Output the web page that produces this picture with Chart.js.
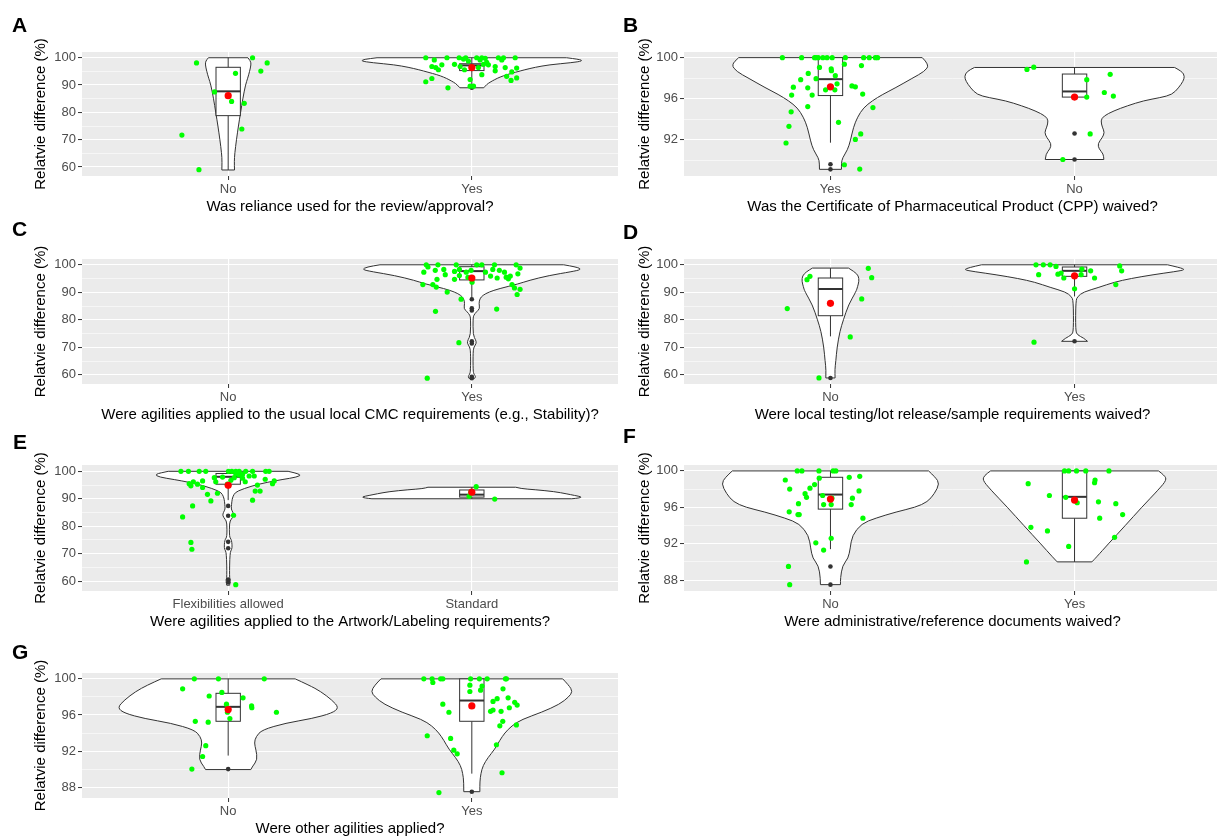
<!DOCTYPE html>
<html>
<head>
<meta charset="utf-8">
<script src="https://cdn.jsdelivr.net/npm/chart.js@4.4.1/dist/chart.umd.min.js"></script>
<style>
  html, body { margin: 0; padding: 0; background: #fff; overflow: hidden; }
  body { position: relative; width: 1217px; height: 839px; }
  canvas { position: absolute; }
  .tag { position: absolute; font: bold 21px 'Liberation Sans', Arial, sans-serif; color: #000; line-height: 1; z-index: 2; }
</style>
</head>
<body>
<div class="tag" style="left:12px;top:14px">A</div>
<div class="tag" style="left:623px;top:14px">B</div>
<div class="tag" style="left:12px;top:218px">C</div>
<div class="tag" style="left:623px;top:221px">D</div>
<div class="tag" style="left:13px;top:431px">E</div>
<div class="tag" style="left:623px;top:425px">F</div>
<div class="tag" style="left:12px;top:641px">G</div>

<canvas id="panelA" width="622" height="199" style="left:0;top:22px"></canvas>
<canvas id="panelB" width="625" height="199" style="left:600px;top:22px"></canvas>
<canvas id="panelC" width="622" height="200" style="left:0;top:229px"></canvas>
<canvas id="panelD" width="625" height="200" style="left:600px;top:229px"></canvas>
<canvas id="panelE" width="622" height="201" style="left:0;top:435px"></canvas>
<canvas id="panelF" width="625" height="201" style="left:600px;top:435px"></canvas>
<canvas id="panelG" width="622" height="200" style="left:0;top:643px"></canvas>

<script>
const FONT = "'Liberation Sans', Arial, sans-serif";
const Y_TITLE = 'Relatvie difference (%)';

// y ticks (major labelled, minor only as grid)
const ticks60 = [60, 70, 80, 90, 100];
const minor60 = [65, 75, 85, 95];
const ticks92 = [92, 96, 100];
const ticks88 = [88, 92, 96, 100];
const minor4 = [90, 94, 98];

// violins: [value, half width in category units]; boxes: [lower, q1, median, q3, upper]
// points: [x jitter, value]

// ---- A ----
const aCategories = ['No', 'Yes'];
const aTitle = 'Was reliance used for the review/approval?';
const aNoViolin = [[100, .081], [98.8, .092], [97.5, .094], [95, .088], [92.5, .08], [90, .071], [85, .06], [80, .051], [75, .042], [70, .034], [65, .027], [62, .025], [58.9, .026]];
const aYesViolin = [[100, .389], [99.4, .443], [98.8, .455], [98.2, .41], [97.4, .316], [96.5, .26], [95.6, .217], [94.7, .18], [93.8, .143], [92.9, .115], [92, .094], [91, .074], [90.2, .061], [89, .049]];
const aNoBox = [58.9, 78.8, 87.7, 96.5, 100];
const aYesBox = [89.6, 95.3, 97.2, 97.8, 100];
const aMeans = [86.1, 96.4];
const aNoOutliers = [];
const aYesOutliers = [89.0];
const aNoPoints = [[-0.13, 98.1], [0.10, 100], [0.16, 98.1], [0.134, 95.1], [0.03, 94.3], [-0.056, 87.5], [0.014, 84.0], [0.066, 83.3], [0.056, 73.9], [-0.19, 71.7], [-0.12, 59.0]];
const aYesPoints = [[-0.189, 100], [-0.154, 99.2], [-0.102, 100], [-0.052, 100], [-0.034, 99.5], [-0.025, 100], [0.020, 100], [0.041, 100], [0.109, 100], [0.130, 100], [0.178, 100],
  [-0.164, 96.8], [-0.148, 96.4], [-0.123, 97.4], [-0.137, 95.6], [-0.071, 97.6], [-0.048, 96.8], [-0.030, 95.6], [0.027, 96.4], [0.048, 97.6], [0.061, 98.3], [0.096, 96.8],
  [0.137, 96.4], [0.184, 96.2], [0.164, 94.8], [0.143, 93.2], [0.184, 92.6], [0.161, 91.7], [-0.007, 92.0], [-0.164, 92.4], [-0.189, 91.2], [-0.098, 89.0], [-0.007, 89.6],
  [0.007, 89.6], [0.041, 93.8], [0.096, 95.2], [0.068, 97.4], [0.034, 99.2], [0.123, 99.2], [0.055, 99.8], [-0.014, 98.8]];

// ---- B ----
const bCategories = ['Yes', 'No'];
const bTitle = 'Was the Certificate of Pharmaceutical Product (CPP) waived?';
const bYesViolin = [[100, .376], [99.3, .406], [98.65, .385], [98, .336], [97.05, .266], [96.4, .213], [95.8, .172], [95.1, .135], [94.2, .111], [93.2, .094], [91.9, .082], [91, .07], [90.2, .049], [89.7, .045], [89.1, .045]];
const bNoViolin = [[99.04, .41], [98.65, .441], [98.17, .451], [97.7, .445], [97.05, .426], [96.4, .40], [96.1, .352], [95.8, .283], [95.3, .216], [94.8, .16], [94.3, .119], [93.85, .107], [93.2, .114], [92.7, .123], [92.2, .114], [91.6, .095], [91.1, .10], [90.6, .118], [90.06, .12]];
const bYesBox = [91.7, 96.3, 97.9, 100, 100];
const bNoBox = [96.15, 96.15, 96.7, 98.4, 99.04];
const bMeans = [97.15, 96.15];
const bYesOutliers = [89.6, 89.1];
const bNoOutliers = [92.6, 90.06];
const bYesPoints = [[-0.197, 100], [-0.118, 100], [-0.065, 100], [-0.059, 100], [-0.050, 100], [-0.031, 100], [-0.014, 100], [0.007, 100], [0.061, 100], [0.136, 100], [0.159, 100], [0.184, 100], [0.193, 100],
  [-0.045, 99.04], [0.003, 98.91], [0.004, 98.72], [0.057, 99.36], [0.127, 99.23], [-0.091, 98.46], [-0.122, 97.85], [-0.059, 97.95], [0.020, 98.24], [-0.152, 97.12], [-0.093, 97.05],
  [0.027, 97.44], [0.088, 97.24], [0.102, 97.15], [-0.020, 96.86], [0.018, 96.86], [-0.159, 96.35], [-0.075, 96.35], [0.132, 96.44], [-0.093, 95.22], [0.174, 95.13], [-0.161, 94.71],
  [-0.170, 93.30], [0.033, 93.69], [0.124, 92.56], [0.102, 92.02], [-0.182, 91.67], [0.057, 89.55], [0.120, 89.13]];
const bNoPoints = [[-0.195, 98.85], [-0.167, 99.07], [0.050, 97.85], [0.146, 98.37], [0.122, 96.6], [0.159, 96.25], [0.050, 96.15], [0.064, 92.56], [-0.048, 90.06]];

// ---- C ----
const cCategories = ['No', 'Yes'];
const cTitle = 'Were agilities applied to the usual local CMC requirements (e.g., Stability)?';
const cYesViolin = [[100, .377], [99.2, .43], [98.3, .451], [97.5, .41], [96.1, .316], [94.3, .234], [93.1, .193], [91.3, .111], [90.1, .07], [88.9, .045], [87.7, .033], [85.9, .029], [84.1, .033], [82.9, .019], [81.7, .008], [80.5, .005], [74.5, .005], [72.7, .016], [71.5, .019], [70.2, .009], [68.5, .005], [61.5, .005], [60.2, .009], [59.4, .016], [58.8, .012]];
const cYesBox = [88.0, 94.5, 97.7, 99.3, 100];
const cMeans = [null, 95.2];
const cYesOutliers = [87.5, 84.2, 83.4, 72.2, 71.4, 59.3, 58.8];
const cYesPoints = [[-0.187, 100], [-0.180, 99.2], [-0.139, 100], [-0.064, 100], [0.020, 100], [0.041, 100], [0.093, 100], [0.182, 100], [-0.197, 97.3], [-0.150, 98], [-0.115, 98.3],
  [-0.071, 97.6], [-0.051, 98.3], [-0.023, 97.3], [-0.003, 98], [0.056, 97.3], [0.086, 98.3], [0.113, 98], [0.134, 97.3], [0.189, 96.7], [0.198, 98.8], [-0.109, 96.4], [-0.143, 94.7],
  [-0.071, 94.7], [-0.051, 96.1], [-0.016, 95.4], [0.077, 95.9], [0.104, 95.2], [0.141, 95.5], [0.150, 94.9], [0.158, 95.9], [-0.201, 92.8], [-0.160, 92.8], [-0.146, 91.9],
  [-0.101, 90.1], [-0.044, 87.5], [0.001, 93.7], [0.165, 92.8], [0.175, 91.6], [0.198, 91.1], [0.186, 89.2], [-0.149, 83.1], [0.102, 83.9], [-0.053, 71.7], [-0.183, 58.8]];

// ---- D ----
const dCategories = ['No', 'Yes'];
const dTitle = 'Were local testing/lot release/sample requirements waived?';
const dNoViolin = [[98.8, .074], [97.5, .098], [96, .115], [94, .117], [92, .111], [90.3, .105], [85.5, .074], [80, .053], [76, .039], [70, .027], [65, .022], [62, .018], [58.9, .019]];
const dYesViolin = [[100, .381], [99, .43], [98.2, .455], [97.5, .41], [96.4, .322], [95, .23], [93.7, .163], [91.8, .10], [90.1, .036], [88.5, .013], [87, .005], [76, .004], [74.5, .012], [73.4, .037], [72.2, .053]];
const dNoBox = [74.0, 81.5, 91.2, 95.2, 98.8];
const dYesBox = [88.5, 95.8, 97.8, 99.2, 100];
const dMeans = [86.0, 96.0];
const dNoOutliers = [58.9];
const dYesOutliers = [72.2];
const dNoPoints = [[-0.177, 84.1], [-0.096, 94.6], [-0.084, 95.8], [0.155, 98.7], [0.169, 95.3], [0.128, 87.6], [0.081, 73.8], [-0.047, 58.9]];
const dYesPoints = [[-0.158, 100], [-0.128, 100], [-0.10, 100], [-0.076, 99.4], [-0.147, 96.4], [-0.068, 96.6], [-0.055, 97.0], [-0.044, 95.2], [0.03, 98.4], [0.066, 97.8],
  [0.027, 96.4], [0.082, 95.2], [0, 91.3], [0.185, 99.6], [0.193, 97.8], [0.169, 92.8], [-0.166, 71.9]];

// ---- E ----
const eCategories = ['Flexibilities allowed', 'Standard'];
const eTitle = 'Were agilities applied to the Artwork/Labeling requirements?';
const eFlexViolin = [[100, .246], [98.9, .303], [97.9, .283], [97, .221], [96, .16], [94.7, .098], [92.8, .037], [91.6, .023], [89.8, .016], [88, .014], [86.2, .012], [85, .02], [83.8, .023], [82.5, .012], [81.3, .005], [76.1, .005], [75.3, .012], [74.1, .015], [72.8, .016], [71.6, .015], [70.4, .007], [61.3, .005], [60.4, .009], [59.2, .007], [58.5, .006]];
const eStdViolin = [[94.2, .18], [93.7, .2], [93.3, .26], [92.6, .34], [91.8, .389], [91.2, .422], [90.7, .451], [90.3, .443], [90.0, .41]];
const eFlexBox = [89.5, 95.3, 98.0, 99.2, 100];
const eStdBox = [90.0, 90.6, 91.5, 93.2, 94.2];
const eMeans = [94.9, 92.4];
const eFlexOutliers = [87.4, 83.8, 74.3, 72.0, 60.6, 59.5];
const eStdOutliers = [];
const eFlexPoints = [[-0.194, 100], [-0.163, 100], [-0.119, 100], [-0.092, 100], [0.001, 100], [0.015, 100], [0.031, 100], [0.045, 100], [0.072, 100], [0.100, 100], [0.154, 100], [0.168, 100],
  [-0.160, 95.5], [-0.153, 94.7], [-0.143, 96.2], [-0.126, 95.3], [-0.105, 96.5], [-0.105, 94.1], [-0.085, 91.6], [-0.071, 89.2], [-0.057, 97.7], [-0.051, 96.2], [-0.044, 92.0],
  [-0.023, 97.9], [-0.003, 95.3], [0.011, 96.7], [0.025, 97.7], [0.045, 98.7], [0.059, 97.5], [0.070, 96.2], [0.086, 98.3], [0.107, 98.3], [0.120, 95.0], [0.111, 92.8], [0.131, 92.8],
  [0.152, 97.1], [0.182, 95.5], [0.189, 96.5], [0.100, 89.5], [-0.146, 87.4], [-0.187, 83.4], [0.022, 84.0], [-0.153, 74.1], [-0.149, 71.6], [0.031, 58.7], [0.059, 98.9], [0.031, 99.2]];
const eStdPoints = [[-0.011, 90.9], [0.018, 94.4], [0.094, 89.9], [-0.004, 92.4]];

// ---- F ----
const fCategories = ['No', 'Yes'];
const fTitle = 'Were administrative/reference documents waived?';
const fNoViolin = [[100, .402], [99.3, .43], [98.6, .447], [97.5, .426], [96.6, .398], [96, .348], [95.5, .27], [94.8, .184], [94.2, .127], [92.9, .089], [91.5, .081], [90.4, .073], [89.6, .049], [88.2, .041], [87.5, .041]];
const fYesViolin = [[100, .344], [99.5, .369], [99, .377], [98, .346], [96, .275], [94, .208], [92, .139], [90.5, .089], [90, .071]];
const fNoBox = [91.4, 95.8, 97.4, 99.3, 100];
const fYesBox = [90.0, 94.8, 97.15, 100, 100];
const fMeans = [96.9, 96.8];
const fNoOutliers = [89.5, 87.5];
const fYesOutliers = [];
const fNoPoints = [[-0.136, 100], [-0.117, 100], [-0.047, 100], [0.011, 100], [0.022, 100], [-0.185, 99.0], [-0.167, 98.0], [-0.046, 99.2], [0.077, 99.3], [0.120, 99.4],
  [-0.065, 98.5], [-0.084, 98.1], [-0.104, 97.5], [-0.098, 97.1], [-0.131, 96.4], [-0.032, 97.3], [0.006, 97.0], [0.003, 96.3], [-0.028, 96.3], [0.090, 97.0], [0.085, 96.3],
  [0.117, 97.8], [-0.169, 95.5], [-0.133, 95.2], [-0.128, 95.2], [0.133, 94.8], [-0.060, 92.1], [0.003, 92.6], [-0.028, 91.3], [-0.172, 89.5], [-0.167, 87.5]];
const fYesPoints = [[-0.041, 100], [-0.024, 100], [0.008, 100], [0.046, 100], [0.141, 100], [-0.190, 98.6], [-0.103, 97.3], [-0.036, 97.1], [0.011, 96.5], [0.084, 99.0],
  [0.082, 98.7], [0.098, 96.6], [0.169, 96.4], [0.197, 95.2], [0.103, 94.8], [-0.179, 93.8], [-0.111, 93.4], [-0.024, 91.7], [0.164, 92.7], [-0.197, 90.0]];

// ---- G ----
const gCategories = ['No', 'Yes'];
const gTitle = 'Were other agilities applied?';
const gNoViolin = [[100, .275], [99.3, .332], [98.6, .38], [97.65, .426], [96.8, .455], [96.2, .426], [95.6, .344], [95.1, .236], [94.35, .139], [93.6, .114], [92.9, .107], [92.15, .114], [91.05, .12], [90.3, .10], [89.95, .093]];
const gYesViolin = [[100, .373], [99.3, .398], [98.6, .414], [98, .398], [97.2, .361], [96.3, .287], [95.5, .205], [94.8, .164], [94, .135], [93.2, .115], [92.2, .094], [91.3, .067], [90.4, .046], [89.5, .037], [88.6, .033], [87.5, .033]];
const gNoBox = [91.5, 95.3, 96.9, 98.4, 100];
const gYesBox = [89.5, 95.3, 97.6, 100, 100];
const gMeans = [96.6, 97.0];
const gNoOutliers = [90.0];
const gYesOutliers = [87.5];
const gNoPoints = [[-0.139, 100], [-0.040, 100], [0.148, 100], [-0.187, 98.9], [-0.078, 98.1], [-0.026, 98.5], [-0.007, 97.2], [0.061, 97.9], [0.096, 97.0], [0.097, 96.8],
  [-0.003, 96.3], [0.007, 95.6], [0.198, 96.3], [-0.135, 95.3], [-0.082, 95.2], [-0.092, 92.6], [-0.105, 91.4], [-0.149, 90.0]];
const gYesPoints = [[-0.197, 100], [-0.163, 100], [-0.128, 100], [-0.119, 100], [-0.005, 100], [0.031, 100], [0.063, 100], [0.138, 100], [0.142, 100], [-0.160, 99.6],
  [-0.008, 99.3], [0.042, 99.2], [0.036, 98.75], [-0.008, 98.6], [0.128, 98.9], [-0.119, 97.2], [-0.094, 96.3], [0.087, 97.5], [0.104, 97.8], [0.149, 97.9], [0.176, 97.4],
  [0.186, 97.1], [0.154, 96.8], [0.077, 96.4], [0.087, 96.55], [0.120, 96.4], [0.127, 95.3], [0.115, 94.8], [0.183, 94.9], [-0.183, 93.7], [-0.087, 93.4], [-0.074, 92.1],
  [-0.060, 91.7], [0.101, 92.7], [0.124, 89.6], [-0.135, 87.4]];

function smoothSide(ctx, pts) {
  for (let i = 1; i < pts.length - 1; i++) {
    const mx = (pts[i][0] + pts[i + 1][0]) / 2;
    const my = (pts[i][1] + pts[i + 1][1]) / 2;
    ctx.quadraticCurveTo(pts[i][0], pts[i][1], mx, my);
  }
  const last = pts[pts.length - 1];
  ctx.lineTo(last[0], last[1]);
}

// gray panel background, violins and boxplots, drawn through the chart scales
function violinLayer(groups) {
  return {
    id: 'violinLayer',
    beforeDraw(chart) {
      const { ctx, chartArea: a } = chart;
      ctx.save();
      ctx.fillStyle = '#EBEBEB';
      ctx.fillRect(a.left, a.top, a.right - a.left, a.bottom - a.top);
      ctx.restore();
    },
    beforeDatasetsDraw(chart) {
      const { ctx, chartArea: a } = chart;
      const xs = chart.scales.x, ys = chart.scales.y;
      ctx.save();
      ctx.beginPath();
      ctx.rect(a.left, a.top, a.right - a.left, a.bottom - a.top);
      ctx.clip();
      ctx.strokeStyle = '#333333';
      groups.forEach((g, i) => {
        const cat = i + 1;
        if (g.violin) {
          const right = g.violin.map(([v, w]) => [xs.getPixelForValue(cat + w), ys.getPixelForValue(v)]);
          const left = g.violin.map(([v, w]) => [xs.getPixelForValue(cat - w), ys.getPixelForValue(v)]).reverse();
          ctx.beginPath();
          ctx.moveTo(left[left.length - 1][0], left[left.length - 1][1]);
          ctx.lineTo(right[0][0], right[0][1]);
          smoothSide(ctx, right);
          ctx.lineTo(left[0][0], left[0][1]);
          smoothSide(ctx, left);
          ctx.closePath();
          ctx.fillStyle = '#fff';
          ctx.fill();
          ctx.lineWidth = 1;
          ctx.stroke();
        }
        if (g.box) {
          const [lo, q1, med, q3, hi] = g.box;
          const p = v => ys.getPixelForValue(v);
          const xc = xs.getPixelForValue(cat);
          const x0 = xs.getPixelForValue(cat - 0.05);
          const x1 = xs.getPixelForValue(cat + 0.05);
          ctx.lineWidth = 1;
          ctx.beginPath();
          ctx.moveTo(xc, p(hi)); ctx.lineTo(xc, p(q3));
          ctx.moveTo(xc, p(q1)); ctx.lineTo(xc, p(lo));
          ctx.stroke();
          ctx.fillStyle = '#fff';
          ctx.fillRect(x0, p(q3), x1 - x0, p(q1) - p(q3));
          ctx.strokeRect(x0, p(q3), x1 - x0, p(q1) - p(q3));
          ctx.lineWidth = 2;
          ctx.beginPath();
          ctx.moveTo(x0, p(med)); ctx.lineTo(x1, p(med));
          ctx.stroke();
        }
      });
      ctx.restore();
    }
  };
}

function makePanel(id, cfg) {
  const { cats, groups, means, title, yMin, yMax, major, minor, axisW, titlePad, padRight } = cfg;
  const gridVals = [...minor, ...major].sort((a, b) => a - b);
  const isMajor = v => major.includes(v);
  const green = [], black = [], red = [];
  groups.forEach((g, i) => {
    (g.points || []).forEach(([dx, v]) => green.push({ x: i + 1 + dx, y: v }));
    (g.outliers || []).forEach(v => black.push({ x: i + 1, y: v }));
    if (means[i] != null) red.push({ x: i + 1, y: means[i] });
  });

  new Chart(document.getElementById(id), {
    type: 'scatter',
    data: {
      datasets: [
        { data: red, pointRadius: 3.6, pointBackgroundColor: '#FF0000', pointBorderWidth: 0 },
        { data: green, pointRadius: 2.6, pointBackgroundColor: '#00FF00', pointBorderWidth: 0 },
        { data: black, pointRadius: 2.3, pointBackgroundColor: '#333333', pointBorderWidth: 0 }
      ]
    },
    options: {
      responsive: false,
      animation: false,
      devicePixelRatio: 1,
      events: [],
      layout: { padding: { top: 30, right: padRight, left: 0, bottom: 0 } },
      plugins: { legend: { display: false }, tooltip: { enabled: false } },
      scales: {
        x: {
          type: 'linear', min: 0.4, max: 2.6, bounds: 'data',
          afterBuildTicks: ax => { ax.ticks = [{ value: 1 }, { value: 2 }]; },
          afterFit: ax => { ax.height = 45; },
          ticks: {
            autoSkip: false, maxRotation: 0, padding: 2, color: '#4D4D4D',
            font: { family: FONT, size: 13 },
            callback: v => cats[Math.round(v) - 1]
          },
          grid: { color: '#fff', lineWidth: 1.1, tickColor: '#333', tickLength: 4, tickWidth: 1 },
          border: { display: false },
          title: { display: true, text: title, color: '#000', font: { family: FONT, size: 15 }, padding: { top: 0, bottom: 5 } }
        },
        y: {
          type: 'linear', min: yMin, max: yMax, bounds: 'data',
          afterBuildTicks: ax => { ax.ticks = gridVals.map(v => ({ value: v })); },
          afterFit: ax => { ax.width = axisW; },
          ticks: {
            autoSkip: false, padding: 2, color: '#4D4D4D',
            font: { family: FONT, size: 13 },
            callback: v => isMajor(v) ? String(v) : ''
          },
          grid: {
            color: '#fff',
            lineWidth: c => (c.tick && isMajor(c.tick.value)) ? 1.1 : 0.55,
            tickColor: c => (c.tick && isMajor(c.tick.value)) ? '#333' : 'rgba(0,0,0,0)',
            tickLength: 4, tickWidth: 1
          },
          border: { display: false },
          title: { display: true, text: Y_TITLE, color: '#000', font: { family: FONT, size: 15 }, padding: { top: titlePad, bottom: 0 } }
        }
      }
    },
    plugins: [violinLayer(groups)]
  });
}

const leftSide = { axisW: 82, titlePad: 32, padRight: 3 };
const rightSide = { axisW: 84, titlePad: 36, padRight: 4 };

makePanel('panelA', Object.assign({
  cats: aCategories, title: aTitle, means: aMeans, yMin: 56.7, yMax: 102.1, major: ticks60, minor: minor60,
  groups: [
    { violin: aNoViolin, box: aNoBox, outliers: aNoOutliers, points: aNoPoints },
    { violin: aYesViolin, box: aYesBox, outliers: aYesOutliers, points: aYesPoints }
  ]
}, leftSide));

makePanel('panelB', Object.assign({
  cats: bCategories, title: bTitle, means: bMeans, yMin: 88.45, yMax: 100.55, major: ticks92, minor: minor4,
  groups: [
    { violin: bYesViolin, box: bYesBox, outliers: bYesOutliers, points: bYesPoints },
    { violin: bNoViolin, box: bNoBox, outliers: bNoOutliers, points: bNoPoints }
  ]
}, rightSide));

makePanel('panelC', Object.assign({
  cats: cCategories, title: cTitle, means: cMeans, yMin: 56.7, yMax: 102.1, major: ticks60, minor: minor60,
  groups: [
    {},
    { violin: cYesViolin, box: cYesBox, outliers: cYesOutliers, points: cYesPoints }
  ]
}, leftSide));

makePanel('panelD', Object.assign({
  cats: dCategories, title: dTitle, means: dMeans, yMin: 56.7, yMax: 102.1, major: ticks60, minor: minor60,
  groups: [
    { violin: dNoViolin, box: dNoBox, outliers: dNoOutliers, points: dNoPoints },
    { violin: dYesViolin, box: dYesBox, outliers: dYesOutliers, points: dYesPoints }
  ]
}, rightSide));

makePanel('panelE', Object.assign({
  cats: eCategories, title: eTitle, means: eMeans, yMin: 56.4, yMax: 102.3, major: ticks60, minor: minor60,
  groups: [
    { violin: eFlexViolin, box: eFlexBox, outliers: eFlexOutliers, points: eFlexPoints },
    { violin: eStdViolin, box: eStdBox, outliers: eStdOutliers, points: eStdPoints }
  ]
}, leftSide));

makePanel('panelF', Object.assign({
  cats: fCategories, title: fTitle, means: fMeans, yMin: 86.8, yMax: 100.65, major: ticks88, minor: minor4,
  groups: [
    { violin: fNoViolin, box: fNoBox, outliers: fNoOutliers, points: fNoPoints },
    { violin: fYesViolin, box: fYesBox, outliers: fYesOutliers, points: fYesPoints }
  ]
}, rightSide));

makePanel('panelG', Object.assign({
  cats: gCategories, title: gTitle, means: gMeans, yMin: 86.8, yMax: 100.65, major: ticks88, minor: minor4,
  groups: [
    { violin: gNoViolin, box: gNoBox, outliers: gNoOutliers, points: gNoPoints },
    { violin: gYesViolin, box: gYesBox, outliers: gYesOutliers, points: gYesPoints }
  ]
}, leftSide));
</script>
</body>
</html>
